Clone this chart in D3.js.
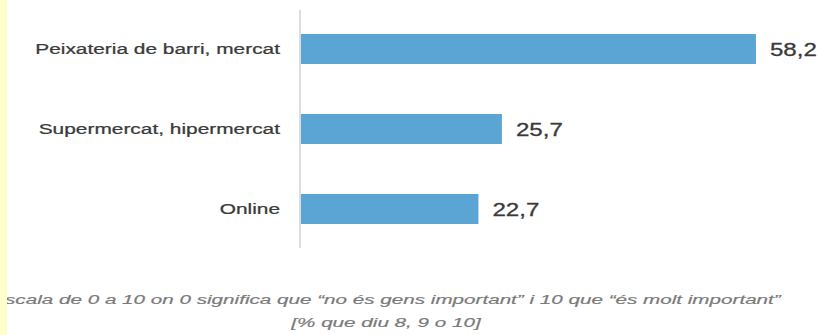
<!DOCTYPE html>
<html>
<head>
<meta charset="utf-8">
<script src="https://cdn.jsdelivr.net/npm/d3@7"></script>
<style>
  html, body { margin: 0; padding: 0; background: #fff; }
  svg { display: block; }
</style>
</head>
<body>
<svg id="chart" width="819" height="335"></svg>
<script>
const categories = ["Peixateria de barri, mercat", "Supermercat, hipermercat", "Online"];
const values = [58.2, 25.7, 22.7];
const valueLabels = ["58,2", "25,7", "22,7"];
const noteLines = [
  "Escala de 0 a 10 on 0 significa que “no és gens important” i 10 que “és molt important”",
  "[% que diu 8, 9 o 10]"
];

const svg = d3.select("#chart");
const W = 819, H = 335;

const x = d3.scaleLinear().domain([0, 60]).range([301, 301 + 469]);
const y = d3.scaleBand().domain(categories).range([10, 248]).paddingInner(0.625).paddingOuter(0.3);

const SX = 1.44; // horizontal stretch of the original rendering

// bars
svg.selectAll("rect.bar").data(categories).join("rect")
  .attr("class", "bar")
  .attr("x", x(0))
  .attr("y", d => y(d))
  .attr("width", (d, i) => x(values[i]) - x(0))
  .attr("height", y.bandwidth())
  .attr("fill", "#5aa5d4");

// axis line (category axis)
const yAxis = d3.axisLeft(y).tickSize(0).tickFormat("");
const ag = svg.append("g").attr("transform", `translate(${x(0) - 1},0)`).call(yAxis);
ag.select(".domain").attr("stroke", "#d0d0d0").attr("stroke-width", 1.5)
  .attr("d", `M0,${y.range()[0]}V${y.range()[1]}`);

// category labels
svg.selectAll("text.cat").data(categories).join("text")
  .attr("class", "cat")
  .attr("transform", d => `translate(280,${y(d) + y.bandwidth() / 2 + 5}) scale(${SX},1)`)
  .attr("text-anchor", "end")
  .attr("font-family", "Liberation Sans, Arial, sans-serif")
  .attr("font-size", 14.5)
  .attr("fill", "#3a3a3a")
  .attr("stroke", "#3a3a3a")
  .attr("stroke-width", 0.25)
  .text(d => d);

// value labels
svg.selectAll("text.val").data(categories).join("text")
  .attr("class", "val")
  .attr("transform", (d, i) => `translate(${x(values[i]) + 14},${y(d) + y.bandwidth() / 2 + 7}) scale(1.34,1)`)
  .attr("font-family", "Liberation Sans, Arial, sans-serif")
  .attr("font-size", 18)
  .attr("fill", "#3a3a3a")
  .attr("stroke", "#3a3a3a")
  .attr("stroke-width", 0.3)
  .text((d, i) => valueLabels[i]);

// footnote
svg.selectAll("text.note").data(noteLines).join("text")
  .attr("class", "note")
  .attr("transform", (d, i) => `translate(386,${304 + i * 23}) scale(1.53,1)`)
  .attr("text-anchor", "middle")
  .attr("font-family", "Liberation Sans, Arial, sans-serif")
  .attr("font-style", "italic")
  .attr("font-size", 13.5)
  .attr("fill", "#7a7a7a")
  .attr("stroke", "#7a7a7a")
  .attr("stroke-width", 0.2)
  .text(d => d);

// pale yellow strip on the left edge (drawn on top, as in the reference)
svg.append("rect").attr("x", 0).attr("y", 0).attr("width", 7).attr("height", H).attr("fill", "#ffffcc");
</script>
</body>
</html>
